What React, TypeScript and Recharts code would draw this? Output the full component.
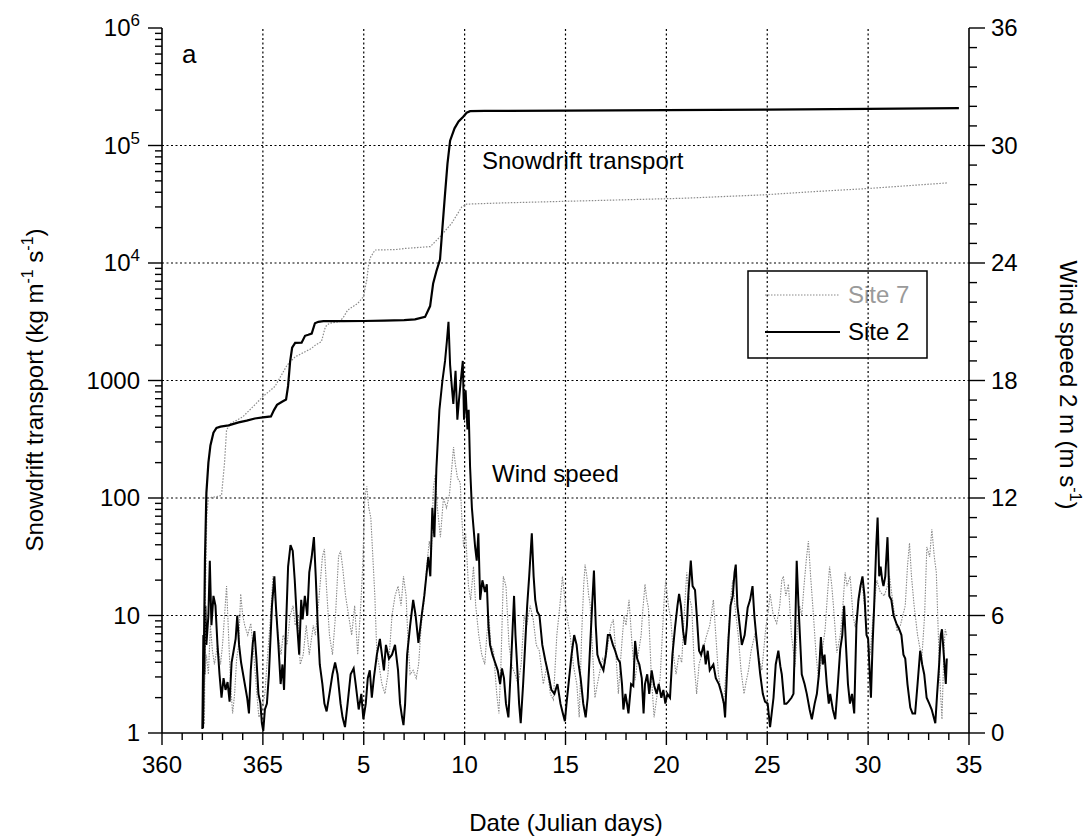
import React from "react";
import { ComposedChart, Line, XAxis, YAxis, ReferenceLine, Customized } from "recharts";

const FONT = "'Liberation Sans', Arial, Helvetica, sans-serif";
const GREY = "#8a8a8a";

// x = days after Julian day 360 (0 = 360, 5 = 365, 10 = day 5 of the next year ...)
const dateTickPositions = [0, 5, 10, 15, 20, 25, 30, 35, 40];
const dateTickLabels = ["360", "365", "5", "10", "15", "20", "25", "30", "35"];

const transportTickValues = [1, 10, 100, 1000, 10000, 100000, 1000000];
const transportTickLabels = ["1", "10", "100", "1000", "10^4", "10^5", "10^6"];

const windTickValues = [0, 6, 12, 18, 24, 30, 36];
const windTickLabels = ["0", "6", "12", "18", "24", "30", "36"];

const seriesNames = ["Site 7", "Site 2"];

// cumulative snowdrift transport [day offset, kg m-1 s-1]
const site2Transport: [number, number][] = [
  [2.03, 1.1], [2.08, 5], [2.13, 30], [2.2, 110], [2.3, 200], [2.4, 280], [2.55, 360], [2.7, 395],
  [2.9, 405], [3.3, 415], [3.8, 440], [4.2, 455], [4.6, 475], [5.0, 485], [5.4, 495], [5.55, 560],
  [5.7, 620], [5.95, 660], [6.15, 690], [6.25, 900], [6.35, 1450], [6.45, 1900], [6.6, 2090],
  [6.92, 2100], [7.09, 2400], [7.25, 2450], [7.42, 2510], [7.58, 3070], [7.75, 3160], [8.0, 3200],
  [9.0, 3200], [10.0, 3210], [11.0, 3230], [12.0, 3260], [12.54, 3310], [13.04, 3480], [13.29, 4300],
  [13.44, 6700], [13.6, 8500], [13.78, 10700], [13.9, 20000], [14.03, 39000], [14.15, 70000],
  [14.28, 110000], [14.5, 140000], [14.7, 160000], [14.92, 175000], [15.1, 190000], [15.27, 196000],
  [16, 197000], [20, 198000], [25, 200000], [30, 202000], [35, 205000], [39.5, 208000],
];

const site7Transport: [number, number][] = [
  [2.1, 1.2], [2.15, 15], [2.22, 70], [2.3, 100], [2.6, 102], [2.95, 105], [3.1, 200], [3.2, 380],
  [3.4, 430], [4.0, 490], [4.6, 620], [5.0, 730], [5.6, 890], [6.2, 1350], [6.6, 1590], [7.4, 1870],
  [7.6, 2000], [7.9, 2140], [8.1, 2870], [8.3, 3070], [8.8, 3170], [9.0, 3470], [9.2, 3970],
  [9.7, 4530], [9.98, 5150], [10.15, 7170], [10.23, 9330], [10.31, 11000], [10.56, 12900],
  [11.55, 13000], [12.05, 13300], [13.3, 13800], [13.78, 16700], [14.36, 21800], [14.86, 30000],
  [15.1, 31700], [17, 32500], [20, 33500], [25.7, 35500], [29.8, 38000], [32.3, 40500],
  [34.95, 43000], [38.9, 48000],
];

// wind speed at 2 m [day offset, m s-1]
const site2Wind: [number, number][] = [
  [2.0, 0.2], [2.05, 5.0], [2.1, 3.0], [2.15, 6.5], [2.2, 4.5], [2.3, 6.0], [2.37, 8.8], [2.45, 5.5],
  [2.55, 7.0], [2.65, 6.5], [2.75, 4.5], [2.85, 3.0], [2.95, 1.8], [3.05, 2.8], [3.15, 2.2], [3.25, 2.6],
  [3.35, 1.6], [3.45, 3.6], [3.55, 4.2], [3.65, 4.8], [3.73, 6.0], [3.82, 4.5], [3.92, 3.6], [4.02, 3.0],
  [4.12, 2.4], [4.22, 1.8], [4.31, 1.0], [4.4, 3.2], [4.5, 4.6], [4.58, 5.2], [4.68, 3.8], [4.78, 2.0],
  [4.88, 1.5], [4.95, 0.5], [5.02, 0.1], [5.1, 1.2], [5.2, 1.5], [5.3, 3.0], [5.45, 6.5], [5.57, 8.0],
  [5.65, 6.4], [5.77, 4.5], [5.88, 2.5], [5.97, 3.5], [6.05, 2.2], [6.15, 5.5], [6.25, 8.5], [6.37, 9.6],
  [6.48, 9.3], [6.58, 7.8], [6.7, 5.5], [6.8, 4.0], [6.9, 6.8], [6.97, 5.8], [7.08, 7.0], [7.2, 6.0],
  [7.3, 8.2], [7.42, 9.0], [7.53, 10.0], [7.62, 8.0], [7.72, 5.5], [7.82, 3.5], [7.95, 2.5], [8.05, 1.5],
  [8.16, 1.1], [8.3, 2.0], [8.45, 3.0], [8.58, 3.6], [8.7, 3.0], [8.85, 1.5], [8.95, 0.8], [9.07, 0.3],
  [9.2, 1.5], [9.35, 3.0], [9.5, 3.3], [9.6, 2.5], [9.75, 1.2], [9.88, 2.0], [9.98, 0.7], [10.1, 1.5],
  [10.2, 2.8], [10.3, 3.2], [10.4, 1.8], [10.5, 2.8], [10.65, 4.0], [10.8, 4.8], [10.9, 4.0], [11.0, 3.2],
  [11.1, 4.5], [11.25, 3.8], [11.4, 4.0], [11.55, 4.5], [11.7, 3.2], [11.8, 1.5], [11.9, 0.8], [11.97, 0.4],
  [12.05, 1.5], [12.15, 4.0], [12.3, 5.5], [12.45, 6.8], [12.57, 6.0], [12.71, 4.6], [12.87, 6.0],
  [13.0, 7.0], [13.2, 9.0], [13.3, 8.0], [13.4, 11.5], [13.5, 10.0], [13.6, 13.5], [13.75, 16.5],
  [13.9, 18.0], [14.03, 19.0], [14.12, 20.0], [14.2, 21.0], [14.28, 18.8], [14.38, 17.5], [14.44, 16.8],
  [14.55, 18.5], [14.64, 16.0], [14.72, 17.0], [14.81, 18.0], [14.91, 19.0], [14.97, 16.0], [15.05, 17.5],
  [15.14, 15.5], [15.2, 16.5], [15.27, 13.6], [15.36, 11.5], [15.44, 10.5], [15.52, 9.5], [15.6, 8.8],
  [15.68, 10.2], [15.77, 6.8], [15.88, 7.8], [16.01, 7.2], [16.1, 7.6], [16.18, 5.5], [16.26, 4.5],
  [16.38, 4.0], [16.51, 3.6], [16.64, 3.2], [16.76, 2.5], [16.85, 3.3], [16.95, 2.8], [17.05, 1.5],
  [17.17, 0.8], [17.3, 3.5], [17.45, 7.0], [17.52, 5.0], [17.6, 3.5], [17.7, 1.5], [17.78, 0.5],
  [17.9, 2.5], [18.0, 4.5], [18.1, 6.5], [18.2, 8.0], [18.33, 10.2], [18.42, 8.0], [18.5, 6.8],
  [18.6, 6.2], [18.71, 6.0], [18.85, 4.5], [19.0, 3.7], [19.15, 3.0], [19.3, 2.2], [19.45, 2.0],
  [19.6, 2.5], [19.75, 1.5], [19.87, 1.0], [19.97, 0.6], [20.05, 1.5], [20.15, 2.5], [20.3, 4.0],
  [20.43, 5.0], [20.55, 4.5], [20.65, 3.5], [20.75, 2.8], [20.88, 1.5], [21.0, 0.8], [21.1, 1.8],
  [21.2, 4.0], [21.32, 6.5], [21.41, 8.3], [21.5, 5.5], [21.58, 4.0], [21.7, 3.6], [21.88, 3.2],
  [22.0, 4.0], [22.1, 5.0], [22.21, 5.0], [22.35, 4.5], [22.46, 4.2], [22.58, 3.8], [22.7, 3.6],
  [22.8, 2.5], [22.87, 1.2], [22.97, 2.0], [23.05, 1.5], [23.12, 1.0], [23.25, 2.5], [23.36, 2.4],
  [23.45, 4.7], [23.55, 3.8], [23.66, 3.5], [23.78, 2.8], [23.87, 1.0], [23.94, 2.5], [24.05, 3.0],
  [24.15, 2.0], [24.27, 3.2], [24.4, 2.4], [24.52, 2.0], [24.62, 2.5], [24.75, 1.8], [24.85, 2.2],
  [24.95, 1.5], [25.05, 2.0], [25.18, 1.8], [25.3, 4.0], [25.43, 5.4], [25.55, 6.5], [25.63, 7.1],
  [25.72, 6.5], [25.83, 5.2], [25.93, 4.5], [26.02, 5.5], [26.09, 7.1], [26.21, 8.8], [26.3, 7.5],
  [26.42, 7.3], [26.52, 5.8], [26.62, 4.2], [26.72, 4.0], [26.85, 4.5], [26.95, 3.5], [27.05, 4.2],
  [27.15, 3.2], [27.33, 3.5], [27.45, 2.8], [27.6, 2.5], [27.74, 2.0], [27.85, 1.5], [27.91, 0.8],
  [28.0, 3.0], [28.08, 4.8], [28.18, 6.5], [28.29, 7.0], [28.38, 8.2], [28.44, 8.6], [28.52, 6.5],
  [28.6, 5.8], [28.74, 4.5], [28.88, 5.0], [29.03, 6.4], [29.15, 6.8], [29.27, 7.5], [29.36, 6.0],
  [29.45, 5.0], [29.55, 4.0], [29.65, 3.0], [29.78, 2.0], [29.89, 1.6], [30.02, 1.5], [30.14, 0.3],
  [30.22, 1.0], [30.31, 1.8], [30.42, 3.5], [30.55, 4.2], [30.65, 3.4], [30.72, 3.0], [30.85, 1.5],
  [30.95, 1.5], [31.05, 1.6], [31.2, 1.8], [31.3, 2.0], [31.38, 5.0], [31.46, 8.8], [31.55, 6.5],
  [31.71, 3.0], [31.85, 2.5], [31.96, 2.0], [32.1, 1.2], [32.21, 0.7], [32.35, 1.5], [32.46, 2.0],
  [32.56, 3.0], [32.66, 4.9], [32.75, 3.5], [32.84, 4.0], [32.95, 2.5], [33.05, 1.5], [33.12, 2.0],
  [33.25, 1.2], [33.37, 0.7], [33.5, 2.5], [33.62, 4.3], [33.72, 5.0], [33.81, 6.5], [33.9, 4.5],
  [34.0, 2.5], [34.1, 1.5], [34.2, 2.0], [34.31, 1.0], [34.42, 5.5], [34.52, 6.8], [34.62, 7.5],
  [34.72, 8.0], [34.82, 7.0], [34.92, 5.0], [35.0, 4.8], [35.14, 1.8], [35.22, 4.5], [35.3, 6.5],
  [35.4, 9.5], [35.47, 11.0], [35.55, 8.0], [35.62, 8.5], [35.7, 7.8], [35.76, 7.5], [35.85, 8.0],
  [35.96, 10.0], [36.05, 7.0], [36.15, 6.8], [36.26, 6.0], [36.4, 5.6], [36.54, 5.3], [36.65, 5.0],
  [36.75, 4.0], [36.84, 3.8], [36.95, 2.5], [37.09, 1.3], [37.2, 1.0], [37.33, 1.0], [37.45, 2.5],
  [37.58, 4.2], [37.68, 3.5], [37.78, 3.0], [37.9, 1.8], [38.03, 1.5], [38.15, 1.2], [38.33, 0.5],
  [38.42, 2.0], [38.52, 3.5], [38.6, 5.0], [38.66, 5.3], [38.75, 4.0], [38.85, 2.5], [38.9, 3.8],
];

const site7Wind: [number, number][] = [
  [2.05, 0.5], [2.1, 2.5], [2.2, 4.0], [2.3, 3.0], [2.4, 5.5], [2.5, 4.2], [2.6, 3.5], [2.75, 4.5],
  [2.9, 3.5], [3.0, 4.5], [3.1, 6.0], [3.2, 7.5], [3.3, 5.0], [3.4, 2.5], [3.5, 1.0], [3.6, 2.0],
  [3.7, 3.8], [3.8, 4.5], [3.9, 7.1], [4.0, 6.0], [4.1, 5.5], [4.25, 5.0], [4.4, 5.6], [4.55, 4.0],
  [4.7, 2.0], [4.8, 0.8], [4.95, 1.2], [5.1, 2.0], [5.2, 3.5], [5.35, 5.5], [5.5, 8.0], [5.6, 7.0],
  [5.75, 5.0], [5.9, 4.0], [6.0, 5.0], [6.2, 4.5], [6.35, 6.0], [6.5, 6.5], [6.6, 5.5], [6.75, 6.0],
  [6.85, 3.5], [7.0, 4.0], [7.15, 5.5], [7.3, 4.0], [7.5, 5.5], [7.6, 5.0], [7.75, 6.5], [7.95, 9.0],
  [8.05, 9.4], [8.15, 7.5], [8.3, 5.0], [8.45, 4.0], [8.6, 6.0], [8.75, 9.0], [8.85, 9.3], [8.95, 8.5],
  [9.1, 7.0], [9.25, 6.0], [9.4, 5.0], [9.55, 6.5], [9.7, 4.0], [9.85, 6.5], [9.95, 8.5], [10.05, 12.0],
  [10.15, 12.6], [10.25, 11.5], [10.35, 11.0], [10.45, 9.0], [10.55, 7.0], [10.65, 4.0], [10.75, 3.5],
  [10.9, 2.5], [11.05, 2.0], [11.2, 3.0], [11.4, 6.0], [11.55, 7.0], [11.7, 7.5], [11.85, 6.5],
  [11.97, 8.0], [12.1, 7.0], [12.2, 4.5], [12.3, 3.0], [12.45, 3.2], [12.6, 2.8], [12.72, 3.5],
  [12.85, 5.5], [13.0, 6.8], [13.12, 8.5], [13.25, 9.8], [13.35, 9.0], [13.45, 12.5], [13.55, 13.2],
  [13.65, 11.5], [13.8, 10.0], [13.95, 12.0], [14.1, 11.5], [14.25, 12.2], [14.36, 13.5], [14.45, 14.6],
  [14.53, 13.8], [14.65, 13.0], [14.78, 12.8], [14.86, 11.0], [14.95, 9.5], [15.05, 10.2], [15.19, 7.5],
  [15.3, 6.8], [15.44, 8.5], [15.55, 6.5], [15.7, 5.0], [15.85, 4.0], [16.0, 3.5], [16.1, 5.0],
  [16.2, 6.0], [16.3, 4.5], [16.43, 4.2], [16.59, 2.0], [16.7, 1.0], [16.8, 3.5], [16.92, 8.0],
  [17.05, 7.5], [17.2, 4.5], [17.35, 3.4], [17.5, 3.0], [17.65, 2.5], [17.8, 3.5], [17.95, 6.0],
  [18.08, 5.5], [18.25, 6.5], [18.4, 5.8], [18.55, 4.5], [18.7, 4.2], [18.9, 2.5], [19.07, 3.4],
  [19.25, 2.0], [19.4, 1.7], [19.57, 5.0], [19.72, 6.5], [19.85, 8.0], [19.95, 7.0], [20.06, 6.0],
  [20.23, 5.0], [20.4, 3.4], [20.56, 2.5], [20.68, 0.8], [20.8, 5.0], [20.9, 7.5], [20.97, 8.6],
  [21.06, 8.0], [21.15, 7.0], [21.22, 6.6], [21.35, 4.0], [21.46, 1.8], [21.58, 2.5], [21.71, 3.2],
  [21.85, 3.8], [21.96, 3.6], [22.1, 4.5], [22.25, 5.5], [22.37, 5.8], [22.5, 4.0], [22.62, 2.0],
  [22.75, 4.0], [22.9, 6.0], [23.0, 5.5], [23.15, 6.8], [23.3, 4.5], [23.45, 2.7], [23.6, 4.0],
  [23.75, 5.0], [23.81, 6.0], [23.94, 7.6], [24.03, 6.8], [24.11, 6.4], [24.25, 3.0], [24.39, 0.8],
  [24.52, 1.8], [24.69, 2.8], [24.8, 5.0], [24.9, 7.0], [24.97, 7.8], [25.1, 6.5], [25.22, 5.8],
  [25.35, 4.0], [25.48, 3.0], [25.62, 4.0], [25.76, 3.6], [25.88, 6.0], [26.01, 8.2], [26.12, 7.0],
  [26.26, 6.4], [26.38, 3.5], [26.5, 2.0], [26.62, 3.5], [26.75, 4.0], [26.87, 4.5], [27.0, 5.0],
  [27.15, 5.5], [27.33, 6.8], [27.45, 5.0], [27.58, 3.0], [27.7, 2.2], [27.83, 1.5], [27.95, 3.0],
  [28.1, 5.5], [28.2, 7.0], [28.29, 7.8], [28.4, 6.5], [28.57, 4.9], [28.7, 3.2], [28.85, 2.0],
  [28.95, 2.6], [29.07, 3.2], [29.2, 4.2], [29.4, 5.1], [29.55, 4.0], [29.73, 3.2], [29.85, 4.5],
  [29.93, 5.4], [30.05, 6.2], [30.14, 7.1], [30.3, 6.0], [30.47, 5.6], [30.62, 6.5], [30.72, 7.8],
  [30.8, 8.0], [30.92, 7.0], [31.05, 7.6], [31.2, 5.0], [31.38, 3.4], [31.5, 5.5], [31.6, 6.5],
  [31.71, 6.0], [31.82, 7.5], [31.95, 9.0], [32.04, 9.8], [32.15, 8.0], [32.29, 6.0], [32.42, 4.0],
  [32.54, 2.7], [32.7, 4.0], [32.87, 5.3], [32.98, 7.0], [33.09, 8.5], [33.2, 7.5], [33.28, 6.5],
  [33.45, 4.1], [33.62, 5.0], [33.75, 6.5], [33.86, 8.2], [33.95, 7.5], [34.11, 8.0], [34.25, 6.0],
  [34.36, 5.4], [34.5, 6.5], [34.69, 7.8], [34.82, 6.5], [34.94, 5.1], [35.1, 4.0], [35.25, 6.0],
  [35.43, 7.8], [35.6, 7.2], [35.8, 7.0], [35.95, 7.5], [36.06, 8.0], [36.25, 6.5], [36.43, 5.2],
  [36.6, 5.5], [36.84, 6.5], [36.95, 8.5], [37.05, 9.7], [37.15, 8.0], [37.28, 6.5], [37.45, 5.0],
  [37.66, 3.8], [37.8, 6.0], [37.91, 9.5], [38.05, 9.0], [38.16, 10.4], [38.28, 9.0], [38.38, 8.2],
  [38.48, 5.0], [38.54, 3.0], [38.66, 0.7], [38.75, 4.0], [38.82, 5.3], [38.9, 5.0],
];

const toPoints = (arr: [number, number][]) => arr.map(([t, v]) => ({ t, v }));

// axis tick positions (majors carry labels, the rest are minor ticks)
const xAllTicks: number[] = [];
for (let i = 0; i <= 40; i++) xAllTicks.push(i);
const logAllTicks: number[] = [];
for (let d = 0; d < 6; d++) for (let m = 1; m <= 9; m++) logAllTicks.push(m * Math.pow(10, d));
logAllTicks.push(1000000);
const windAllTicks: number[] = [];
for (let i = 0; i <= 36; i++) windAllTicks.push(i);

const BottomTick = (props: any) => {
  const { x, y, payload } = props;
  const idx = dateTickPositions.indexOf(payload.value);
  const major = idx >= 0;
  return (
    <g>
      <line x1={x} x2={x} y1={y} y2={y + (major ? 12 : 7)} stroke="#000" strokeWidth={1.4} />
      {major && (
        <text x={x} y={y + 40} textAnchor="middle" fontSize={24} fontFamily={FONT} fill="#000">
          {dateTickLabels[idx]}
        </text>
      )}
    </g>
  );
};

const TopTick = (props: any) => {
  const { x, y, payload } = props;
  const major = dateTickPositions.indexOf(payload.value) >= 0;
  return <line x1={x} x2={x} y1={y} y2={y - (major ? 12 : 6)} stroke="#000" strokeWidth={1.4} />;
};

const LeftTick = (props: any) => {
  const { x, y, payload } = props;
  const idx = transportTickValues.indexOf(payload.value);
  const major = idx >= 0;
  const label = major ? transportTickLabels[idx] : "";
  const parts = label.split("^");
  return (
    <g>
      <line x1={x} x2={x - (major ? 14 : 7)} y1={y} y2={y} stroke="#000" strokeWidth={1.4} />
      {major && (
        <text x={x - 22} y={y + 8} textAnchor="end" fontSize={24} fontFamily={FONT} fill="#000">
          {parts.length > 1 ? (
            <>
              <tspan>{parts[0]}</tspan>
              <tspan dy={-10} fontSize={17}>{parts[1]}</tspan>
            </>
          ) : (
            label
          )}
        </text>
      )}
    </g>
  );
};

const RightTick = (props: any) => {
  const { x, y, payload } = props;
  const idx = windTickValues.indexOf(payload.value);
  const major = idx >= 0;
  return (
    <g>
      <line x1={x} x2={x + (major ? 16 : 8)} y1={y} y2={y} stroke="#000" strokeWidth={1.4} />
      {major && (
        <text x={x + 22} y={y + 8} textAnchor="start" fontSize={24} fontFamily={FONT} fill="#000">
          {windTickLabels[idx]}
        </text>
      )}
    </g>
  );
};

const Annotations = () => (
  <g fontFamily={FONT}>
    <text x={182} y={63} fontSize={26} fill="#000">a</text>
    <text x={482} y={169} fontSize={24} fill="#000">Snowdrift transport</text>
    <text x={492} y={482} fontSize={24} fill="#000">Wind speed</text>
    <text x={566} y={831} fontSize={24} fill="#000" textAnchor="middle">Date (Julian days)</text>
    <text transform="translate(43,390) rotate(-90)" fontSize={24} fill="#000" textAnchor="middle">
      <tspan>Snowdrift transport (kg m</tspan>
      <tspan dy={-10} fontSize={16}>-1</tspan>
      <tspan dy={10}> s</tspan>
      <tspan dy={-10} fontSize={16}>-1</tspan>
      <tspan dy={10}>)</tspan>
    </text>
    <text transform="translate(1060,385) rotate(90)" fontSize={24} fill="#000" textAnchor="middle">
      <tspan>Wind speed 2 m (m s</tspan>
      <tspan dy={-10} fontSize={16}>-1</tspan>
      <tspan dy={10}>)</tspan>
    </text>
    <rect x={748} y={271} width={179} height={87} fill="#fff" stroke="#000" strokeWidth={1.5} />
    <line x1={765} x2={840} y1={295} y2={295} stroke={GREY} strokeWidth={1.2} strokeDasharray="1.5 1.5" />
    <text x={848} y={303} fontSize={24} fill="#9a9a9a">{seriesNames[0]}</text>
    <line x1={765} x2={840} y1={332} y2={332} stroke="#000" strokeWidth={2} />
    <text x={848} y={340} fontSize={24} fill="#000">{seriesNames[1]}</text>
  </g>
);

export default function App() {
  if (typeof document !== "undefined") {
    document.body.style.margin = "0";
    document.body.style.overflow = "hidden";
  }
  const gridStyle = { stroke: "#000", strokeWidth: 1.2, strokeDasharray: "2 2.5" };
  return (
    <div style={{ width: 1085, height: 839, background: "#fff" }}>
      <ComposedChart width={1085} height={839} margin={{ top: 28, right: 0, bottom: 0, left: 0 }}>
        <XAxis
          xAxisId="x"
          dataKey="t"
          type="number"
          domain={[0, 40]}
          ticks={xAllTicks}
          interval={0}
          tick={(p: any) => <BottomTick {...p} />}
          tickLine={false}
          tickSize={0}
          tickMargin={0}
          height={106}
          axisLine={{ stroke: "#000", strokeWidth: 1.6 }}
          allowDataOverflow
        />
        <XAxis
          xAxisId="top"
          orientation="top"
          type="number"
          domain={[0, 40]}
          ticks={xAllTicks}
          interval={0}
          tick={(p: any) => <TopTick {...p} />}
          tickLine={false}
          tickSize={0}
          tickMargin={0}
          height={0}
          axisLine={{ stroke: "#000", strokeWidth: 1.6 }}
          allowDataOverflow
        />
        <YAxis
          yAxisId="left"
          type="number"
          scale="log"
          domain={[1, 1000000]}
          ticks={logAllTicks}
          interval={0}
          tick={(p: any) => <LeftTick {...p} />}
          tickLine={false}
          tickSize={0}
          tickMargin={0}
          width={162}
          axisLine={{ stroke: "#000", strokeWidth: 1.6 }}
          allowDataOverflow
        />
        <YAxis
          yAxisId="right"
          orientation="right"
          type="number"
          domain={[0, 36]}
          ticks={windAllTicks}
          interval={0}
          tick={(p: any) => <RightTick {...p} />}
          tickLine={false}
          tickSize={0}
          tickMargin={0}
          width={116}
          axisLine={{ stroke: "#000", strokeWidth: 1.6 }}
          allowDataOverflow
        />
        {dateTickPositions.slice(1, -1).map((v) => (
          <ReferenceLine key={"vx" + v} x={v} xAxisId="x" yAxisId="left" {...gridStyle} />
        ))}
        {transportTickValues.slice(1, -1).map((v) => (
          <ReferenceLine key={"hy" + v} y={v} xAxisId="x" yAxisId="left" {...gridStyle} />
        ))}
        <Line
          xAxisId="x"
          yAxisId="right"
          data={toPoints(site7Wind)}
          dataKey="v"
          type="linear"
          stroke={GREY}
          strokeWidth={1.1}
          strokeDasharray="1.5 1.2"
          dot={false}
          isAnimationActive={false}
        />
        <Line
          xAxisId="x"
          yAxisId="right"
          data={toPoints(site2Wind)}
          dataKey="v"
          type="linear"
          stroke="#000"
          strokeWidth={2.0}
          dot={false}
          isAnimationActive={false}
        />
        <Line
          xAxisId="x"
          yAxisId="left"
          data={toPoints(site7Transport)}
          dataKey="v"
          type="linear"
          stroke={GREY}
          strokeWidth={1.2}
          strokeDasharray="1.5 1.5"
          dot={false}
          isAnimationActive={false}
        />
        <Line
          xAxisId="x"
          yAxisId="left"
          data={toPoints(site2Transport)}
          dataKey="v"
          type="linear"
          stroke="#000"
          strokeWidth={2.2}
          dot={false}
          isAnimationActive={false}
        />
        <Customized component={<Annotations />} />
      </ComposedChart>
    </div>
  );
}
